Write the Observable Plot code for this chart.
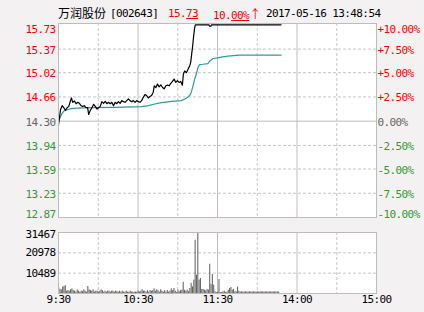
<!DOCTYPE html>
<html><head><meta charset="utf-8">
<script src="https://cdn.jsdelivr.net/npm/d3@7"></script>
<script src="https://cdn.jsdelivr.net/npm/@observablehq/plot@0.6"></script>
<style>
html,body{margin:0;padding:0;background:#f3f1f2;}
#wrap{position:relative;width:424px;height:312px;overflow:hidden;background:#f3f1f2;font-family:"DejaVu Sans Mono",monospace;}
#hdr span{position:absolute;white-space:nowrap;font-size:11px;letter-spacing:-0.6px;line-height:14px;top:7px;}
#hdr .cn{font-family:"Noto Sans CJK SC",sans-serif;font-size:12px;letter-spacing:0;top:6px;}
#hdr .arr{font-family:"Noto Sans CJK SC",sans-serif;font-size:12px;letter-spacing:0;}
#price{position:absolute;top:0;left:0;}
#vol{position:absolute;top:222px;left:0;}
svg{overflow:visible;}
svg text{letter-spacing:-0.6px;}
</style></head><body>
<div id="wrap"><div id="hdr"></div><div id="price"></div><div id="vol"></div></div>
<script>
// ---- header texts ----
const stockName = "万润股份";
const stockCode = "[002643]";
const lastPrice = ["15.", "73"];
const changePct = ["10.", "00%", "↑"];
const timestamp = "2017-05-16 13:48:54";

// ---- axes ----
const basePrice = 14.30;
const priceLevels = [15.73, 15.37, 15.02, 14.66, 14.30, 13.94, 13.59, 13.23, 12.87];
const pctLabels = ["+10.00%", "+7.50%", "+5.00%", "+2.50%", "0.00%", "-2.50%", "-5.00%", "-7.50%", "-10.00%"];
const timeTicks = [0, 60, 120, 180, 240];
const timeLabels = ["9:30", "10:30", "11:30", "14:00", "15:00"];
const dashedTimes = [30, 90, 150, 210];
const solidTimes = [60, 120, 180];
const volTicks = [31467, 20978, 10489];

// ---- price line (minutes after 9:30, trading time) ----
const priceMinutes = [0,1.5,2.75,4,5.25,6.5,7.75,9,9.75,10.75,12,13.25,14.5,15.75,17,18.25,19.5,20.75,22,22.75,24,25.25,26.5,27.75,29,30.25,31.5,32.75,34,35.25,36.5,37.75,39,40.25,41.5,42.75,44,45.25,46.5,47.75,49,50.25,51.5,52.75,54,55.25,56.5,57.75,59,60.25,61.5,62.75,64,65.25,66.5,67.75,69,70.25,71.5,72.25,73.5,74.75,76,77.25,78.5,79.75,81,82.25,83.5,84.75,86,87.25,88.5,89.75,91,92.25,93.5,94.25,95.25,96.5,97.75,99,99.75,100.5,101.25,102,102.75,103.25,113.5,114,115,115.5,168];
const prices = [14.24,14.47,14.53,14.50,14.46,14.50,14.52,14.60,14.645,14.58,14.60,14.56,14.58,14.565,14.53,14.52,14.53,14.50,14.50,14.40,14.46,14.50,14.55,14.52,14.48,14.50,14.52,14.59,14.565,14.595,14.56,14.58,14.56,14.58,14.53,14.58,14.56,14.59,14.565,14.605,14.59,14.58,14.605,14.63,14.605,14.59,14.605,14.58,14.605,14.59,14.58,14.605,14.655,14.695,14.68,14.645,14.665,14.68,14.73,14.825,14.80,14.85,14.81,14.84,14.80,14.78,14.825,14.835,14.825,14.86,14.89,14.925,14.875,14.90,14.875,14.89,14.835,15.00,15.045,15.02,15.07,15.12,15.17,15.295,15.415,15.565,15.685,15.73,15.73,15.71,15.71,15.73,15.73];

// ---- average price line ----
const avgMinutes = [0,2.25,4,6.5,10.25,22.75,42.75,62.75,67.75,72.75,77.75,85.25,92.75,96.5,99,100.25,101.5,102.75,104,105.25,106.5,109,112.75,114,116.5,120.25,122.75,127.75,136.5,168];
const avgPrices = [14.30,14.40,14.45,14.47,14.49,14.50,14.505,14.515,14.53,14.555,14.575,14.595,14.605,14.64,14.68,14.73,14.825,14.92,15.00,15.10,15.14,15.145,15.155,15.19,15.23,15.24,15.25,15.265,15.28,15.28];

// ---- volume per minute ----
const volumes = [
2900,2200,1900,3300,3600,4100,1200,1500,1200,1900,
2400,1500,1200,700,1900,1200,700,1200,1000,1900,
1200,700,3600,1900,1500,1200,1900,700,1200,1200,
700,1200,1900,1500,700,1200,700,1200,1200,700,
1200,1200,700,1200,1000,700,1200,700,1200,700,
700,1200,700,700,1200,700,700,700,700,700,
1200,700,1200,1900,1200,1200,700,1500,700,1500,
1200,1500,2400,1200,1900,1500,700,1900,1200,700,
1500,700,1500,700,1200,2400,1500,2600,1200,500,
1700,900,1500,1700,5700,1700,1200,1700,900,2600,
5200,3400,6900,27500,9500,31000,6900,7700,2100,2100,
1700,1400,2100,1800,15100,4600,9800,4300,900,500,
700,7200,500,500,900,1200,500,800,1700,2600,
3100,1700,2100,900,900,3300,1200,800,800,800,
800,800,800,800,800,800,800,800,800,800,
800,800,800,800,800,800,800,800,800,800,
800,800,800,800,800,800,800];

const RED = "#ff0000", GREEN = "#339933", GRAY = "#666666";
const GRID = "#c6c6c6", BORDER = "#bcbcbc";
const W = 424;
const xDomain = [0, 240];

// header
const hdr = document.getElementById("hdr");
function span(html, left, color, cls) {
  const s = document.createElement("span");
  s.innerHTML = html; s.style.left = left + "px"; s.style.color = color;
  if (cls) s.className = cls;
  hdr.appendChild(s);
}
span(stockName, 58, "#000", "cn");
span(stockCode, 110, "#000");
span(lastPrice[0] + "<u>" + lastPrice[1] + "</u>", 168, RED);
span(changePct[0] + "<u>" + changePct[1] + "</u><span class='arr' style='position:static'>" + changePct[2] + "</span>", 213, RED);
span(timestamp, 266, "#000");

const priceData = priceMinutes.map((m, i) => ({m, p: prices[i]}));
const avgData = avgMinutes.map((m, i) => ({m, p: avgPrices[i]}));

function labelColor(i) { return i < 4 ? RED : (i === 4 ? GRAY : GREEN); }
function labelDy(i, n) { return i === 0 ? 5 : (i === n - 1 ? -3 : 1); }

const levelLabelMarks = [];
priceLevels.forEach((v, i) => {
  levelLabelMarks.push(Plot.text([v], {x: () => 0, y: d => d, text: d => d.toFixed(2),
    textAnchor: "end", dx: -3, dy: labelDy(i, priceLevels.length), fill: labelColor(i), fontSize: 11}));
  levelLabelMarks.push(Plot.text([v], {x: () => 240, y: d => d, text: () => pctLabels[i],
    textAnchor: "start", dx: 1, dy: labelDy(i, priceLevels.length), fill: labelColor(i), fontSize: 11}));
});

const pricePlot = Plot.plot({
  width: W, height: 222,
  marginTop: 23, marginBottom: 5, marginLeft: 58, marginRight: 48,
  x: {domain: xDomain, axis: null},
  y: {domain: [12.87, 15.75], axis: null},
  style: {background: "transparent", fontFamily: "DejaVu Sans Mono, monospace", fontSize: "11px"},
  marks: [
    Plot.frame({fill: "white", stroke: null}),
    Plot.ruleY(priceLevels.slice(1, -1).filter(v => v !== basePrice), {stroke: GRID, strokeDasharray: "3,2"}),
    Plot.ruleX(dashedTimes, {stroke: GRID, strokeDasharray: "3,2"}),
    Plot.ruleY([basePrice], {stroke: BORDER}),
    Plot.ruleX(solidTimes, {stroke: BORDER}),
    Plot.line(avgData, {x: "m", y: "p", stroke: "#2e9c96", strokeWidth: 1.2}),
    Plot.line(priceData, {x: "m", y: "p", stroke: "#000", strokeWidth: 1.2}),
    Plot.frame({stroke: BORDER}),
    ...levelLabelMarks
  ]
});
document.getElementById("price").appendChild(pricePlot);

const volLabelMarks = volTicks.map((v, i) => Plot.text([v], {x: () => 0, y: d => d, text: d => String(d),
  textAnchor: "end", dx: -3, dy: i === 0 ? 2 : 0, fill: "#000", fontSize: 11}));

const volPlot = Plot.plot({
  width: W, height: 90,
  marginTop: 10, marginBottom: 19, marginLeft: 58, marginRight: 48,
  x: {domain: xDomain, axis: null},
  y: {domain: [0, 31467], axis: null},
  style: {background: "transparent", fontFamily: "DejaVu Sans Mono, monospace", fontSize: "11px"},
  marks: [
    Plot.frame({fill: "white", stroke: null}),
    Plot.ruleY(volTicks.slice(1), {stroke: GRID, strokeDasharray: "3,2"}),
    Plot.ruleX(dashedTimes, {stroke: GRID, strokeDasharray: "3,2"}),
    Plot.ruleX(solidTimes, {stroke: BORDER}),
    Plot.rect(volumes, {x1: (d, i) => i + 0.1, x2: (d, i) => i + 0.9, y1: () => 0, y2: d => d, fill: "#666666"}),
    Plot.frame({stroke: BORDER}),
    ...volLabelMarks,
    Plot.text(timeTicks, {x: d => d, text: (d, i) => timeLabels[i], frameAnchor: "bottom", dy: 9, fill: "#000", fontSize: 11})
  ]
});
document.getElementById("vol").appendChild(volPlot);
</script>
</body></html>
